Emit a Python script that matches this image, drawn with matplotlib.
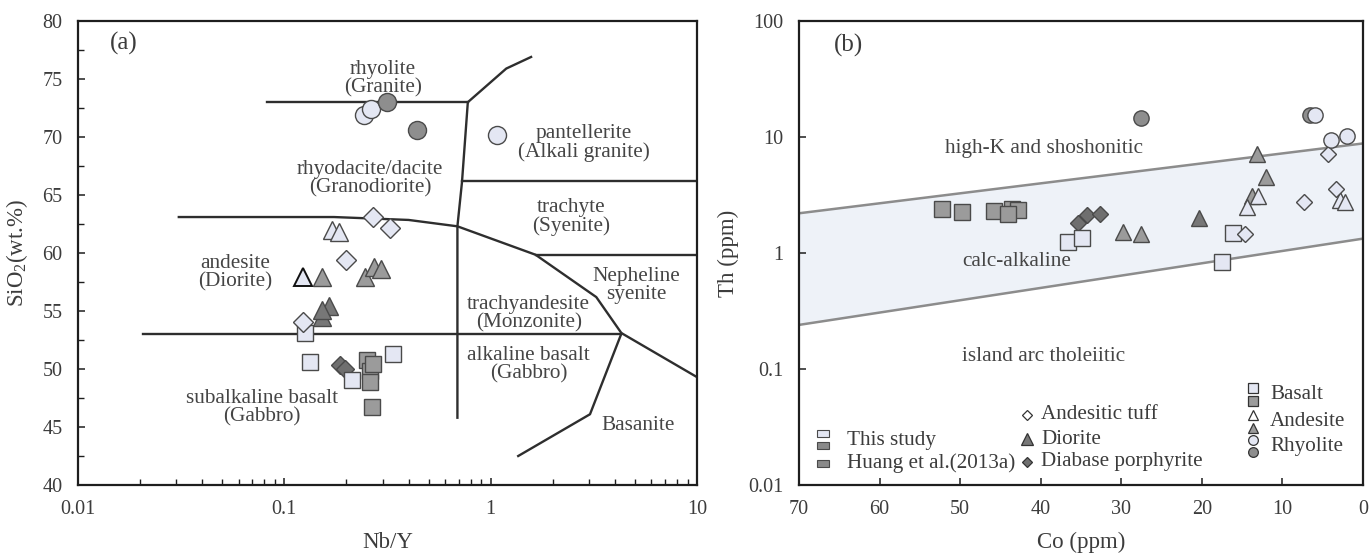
import matplotlib
matplotlib.use("Agg")
import matplotlib.pyplot as plt
import numpy as np
from matplotlib.patches import Rectangle
from matplotlib.ticker import FixedLocator, FuncFormatter, NullFormatter, NullLocator

plt.rcParams['font.family'] = ['Liberation Serif', 'DejaVu Serif']
plt.rcParams['mathtext.fontset'] = 'custom'
plt.rcParams['mathtext.rm'] = 'Liberation Serif'
plt.rcParams['mathtext.it'] = 'Liberation Serif:italic'

# ---------------- Panel (a) data: Nb/Y vs SiO2 ----------------
rhy_this_nby = [0.243, 0.262, 1.07]
rhy_this_si = [71.9, 72.4, 70.17]
rhy_huang_nby = [0.313, 0.438]
rhy_huang_si = [73.0, 70.6]

tuff_nby = [0.27, 0.325, 0.20, 0.1236]
tuff_si = [63.08, 62.18, 59.4, 54.08]

and_this_nby = [0.170, 0.184]
and_this_si = [62.0, 61.84]
and_this_dark_edge_nby = [0.1236]
and_this_dark_edge_si = [57.9]
and_huang_nby = [0.153, 0.246, 0.272, 0.293]
and_huang_si = [57.9, 57.9, 58.77, 58.6]
dior_nby = [0.152, 0.165, 0.152]
dior_si = [54.5, 55.4, 55.1]

bas_huang_nby = [0.252, 0.26, 0.26, 0.27, 0.265]
bas_huang_si = [50.78, 49.8, 48.9, 50.43, 46.75]
diab_nby = [0.186, 0.197]
diab_si = [50.34, 49.97]
bas_this_nby = [0.1259, 0.133, 0.212, 0.337]
bas_this_si = [53.08, 50.63, 49.05, 51.27]

# field boundaries (Nb/Y, SiO2)
bound_a = [
    ([0.082, 0.775], [73.0, 73.0]),
    ([0.775, 1.19, 1.57], [73.0, 75.9, 76.9]),
    ([0.775, 0.726, 0.69, 0.69], [73.0, 66.1, 62.3, 45.8]),
    ([0.726, 10], [66.2, 66.2]),
    ([1.65, 10], [59.85, 59.85]),
    ([0.0308, 0.174, 0.40, 0.69, 1.65, 3.25, 4.3, 10], [63.1, 63.1, 62.85, 62.3, 59.85, 56.2, 53.1, 49.3]),
    ([0.0207, 4.3], [53.05, 53.05]),
    ([4.3, 3.03, 1.36], [53.05, 46.1, 42.5]),
]
field_labels_a = [
    ("rhyolite\n(Granite)", 0.30, 75.05),
    ("pantellerite\n(Alkali granite)", 2.83, 69.5),
    ("rhyodacite/dacite\n(Granodiorite)", 0.26, 66.4),
    ("trachyte\n(Syenite)", 2.46, 63.1),
    ("andesite\n(Diorite)", 0.058, 58.3),
    ("Nepheline\nsyenite", 5.1, 57.2),
    ("trachyandesite\n(Monzonite)", 1.53, 54.8),
    ("alkaline basalt\n(Gabbro)", 1.53, 50.35),
    ("subalkaline basalt\n(Gabbro)", 0.078, 46.7),
    ("Basanite", 5.19, 45.1),
]

# ---------------- Panel (b) data: Co vs Th ----------------
bas_huang_co = [52.2, 49.8, 45.8, 43.6, 42.8, 44.0]
bas_huang_th = [2.38, 2.24, 2.29, 2.38, 2.33, 2.16]
diab_co = [35.4, 34.2, 32.7]
diab_th = [1.80, 2.13, 2.16]
bas_this_co = [36.6, 34.9, 16.1, 17.5]
bas_this_th = [1.25, 1.36, 1.48, 0.83]
and_huang_co = [29.8, 27.6, 13.8, 13.1, 12.0]
and_huang_th = [1.53, 1.46, 3.1, 7.1, 4.5]
dior_co = [20.3]
dior_th = [1.99]
and_this_co = [14.4, 13.0, 2.85, 2.23]
and_this_th = [2.51, 3.1, 2.86, 2.73]
tuff_co = [14.6, 7.3, 3.35, 4.3]
tuff_th = [1.45, 2.73, 3.54, 7.1]
rhy_huang_co = [27.6, 6.58]
rhy_huang_th = [14.6, 15.5]
rhy_this_co = [6.0, 4.0, 2.02]
rhy_this_th = [15.5, 9.4, 10.1]

upper_co = [70, 0]
upper_th = [2.2, 8.8]
lower_co = [70, 0]
lower_th = [0.24, 1.33]

# ---------------- styling ----------------
LIGHT = '#e4e7f3'
GRAY = '#9b9b9b'
DARK = '#777777'
DIAB = '#6f6f6f'
EDGE = '#4a4a4a'
TXT = '#3c3c3c'
FS = 15.3

fig = plt.figure(figsize=(13.69, 5.56), dpi=100)
axa = fig.add_axes([78/1369, 71/556, 619/1369, 464/556])
axb = fig.add_axes([799/1369, 71/556, 564/1369, 464/556])

def style_axes(ax):
    for s in ax.spines.values():
        s.set_linewidth(1.6)
        s.set_color('#1e1e1e')
    ax.tick_params(which='both', direction='in', top=False, right=False,
                   colors='#1e1e1e', labelcolor=TXT, labelsize=14.5, pad=11)
    ax.tick_params(which='major', length=5, width=1.1)
    ax.tick_params(which='minor', length=4, width=1.0)

# ----- panel a -----
axa.set_xscale('log')
axa.set_xlim(0.01, 10)
axa.set_ylim(40, 80)
style_axes(axa)
axa.xaxis.set_major_locator(FixedLocator([0.01, 0.1, 1, 10]))
axa.xaxis.set_major_formatter(FuncFormatter(lambda v, p: f"{v:g}"))
axa.xaxis.set_minor_formatter(NullFormatter())
axa.yaxis.set_major_locator(FixedLocator(np.arange(40, 81, 5)))
axa.yaxis.set_minor_locator(FixedLocator(np.arange(42.5, 80, 5)))

for xs, ys in bound_a:
    axa.plot(xs, ys, color='#2e2e2e', lw=1.7, solid_joinstyle='round', zorder=2)
for txt, x, y in field_labels_a:
    axa.text(x, y, txt, ha='center', va='center', fontsize=FS, color='#454545',
             linespacing=0.95, zorder=3)
axa.text(0.0166, 78.1, "(a)", ha='center', va='center', fontsize=18, color=TXT)

mk = dict(markeredgecolor=EDGE, markeredgewidth=1.0, linestyle='none', zorder=5)
axa.plot(bas_huang_nby, bas_huang_si, 's', ms=12, markerfacecolor=GRAY, **mk)
axa.plot(diab_nby, diab_si, 'D', ms=9, markerfacecolor=DIAB, **mk)
axa.plot(bas_this_nby, bas_this_si, 's', ms=12, markerfacecolor=LIGHT, **mk)
axa.plot(dior_nby, dior_si, '^', ms=13, markerfacecolor=DARK, **mk)
axa.plot(and_huang_nby, and_huang_si, '^', ms=13, markerfacecolor=GRAY, **mk)
axa.plot(and_this_nby, and_this_si, '^', ms=13, markerfacecolor=LIGHT, **mk)
axa.plot(and_this_dark_edge_nby, and_this_dark_edge_si, '^', ms=13, markerfacecolor=LIGHT,
         markeredgecolor='#111111', markeredgewidth=1.4, linestyle='none', zorder=5)
axa.plot(tuff_nby, tuff_si, 'D', ms=10, markerfacecolor=LIGHT, **mk)
axa.plot(rhy_this_nby, rhy_this_si, 'o', ms=13, markerfacecolor=LIGHT, **mk)
axa.plot(rhy_huang_nby, rhy_huang_si, 'o', ms=13, markerfacecolor='#8e8e8e', **mk)

axa.set_xlabel("Nb/Y", fontsize=16.5, color=TXT, labelpad=9)
axa.set_ylabel("SiO$_2$(wt.%)", fontsize=16.5, color=TXT, labelpad=9)

# ----- panel b -----
axb.set_yscale('log')
axb.set_xlim(70, 0)
axb.set_ylim(0.01, 100)
style_axes(axb)
axb.xaxis.set_major_locator(FixedLocator(np.arange(0, 71, 10)))
axb.yaxis.set_major_locator(FixedLocator([0.01, 0.1, 1, 10, 100]))
axb.yaxis.set_major_formatter(FuncFormatter(lambda v, p: f"{v:g}"))
axb.yaxis.set_minor_locator(NullLocator())

axb.fill_between(upper_co, lower_th, upper_th, color='#eef2f8', zorder=1, lw=0)
axb.plot(upper_co, upper_th, color='#8c8c8c', lw=1.8, zorder=2)
axb.plot(lower_co, lower_th, color='#8c8c8c', lw=1.8, zorder=2)

axb.text(63.8, 62, "(b)", ha='center', va='center', fontsize=18, color=TXT)
axb.text(39.6, 8.0, "high-K and shoshonitic", ha='center', va='center', fontsize=FS, color='#454545')
axb.text(43.0, 0.84, "calc-alkaline", ha='center', va='center', fontsize=FS, color='#454545')
axb.text(39.7, 0.127, "island arc tholeiitic", ha='center', va='center', fontsize=FS, color='#454545')

axb.plot(bas_huang_co, bas_huang_th, 's', ms=11, markerfacecolor=GRAY, **mk)
axb.plot(diab_co, diab_th, 'D', ms=8, markerfacecolor=DIAB, **mk)
axb.plot(bas_this_co, bas_this_th, 's', ms=11, markerfacecolor=LIGHT, **mk)
axb.plot(and_huang_co, and_huang_th, '^', ms=12, markerfacecolor=GRAY, **mk)
axb.plot(dior_co, dior_th, '^', ms=12, markerfacecolor=DARK, **mk)
axb.plot(and_this_co, and_this_th, '^', ms=12, markerfacecolor=LIGHT, **mk)
axb.plot(tuff_co, tuff_th, 'D', ms=8.5, markerfacecolor=LIGHT, **mk)
axb.plot(rhy_huang_co, rhy_huang_th, 'o', ms=11, markerfacecolor='#8e8e8e', **mk)
axb.plot(rhy_this_co, rhy_this_th, 'o', ms=11, markerfacecolor=LIGHT, **mk)

axb.set_xlabel("Co (ppm)", fontsize=16.5, color=TXT, labelpad=9)
axb.set_ylabel("Th (ppm)", fontsize=16.5, color=TXT, labelpad=7)

# ----- legend (panel b) -----
T = axb.transAxes
lfs = 15.2
sw_w, sw_h = 12/564, 7/464
for (cx, cy, fc) in [(0.0426, 0.112, LIGHT), (0.0426, 0.0862, '#8a8a8a'), (0.0426, 0.0453, '#8a8a8a')]:
    axb.add_patch(Rectangle((cx - sw_w/2, cy - sw_h/2), sw_w, sw_h, transform=T,
                            facecolor=fc, edgecolor=EDGE, lw=0.8, zorder=6))
axb.text(0.0851, 0.0955, "This study", transform=T, ha='left', va='center', fontsize=lfs, color=TXT)
axb.text(0.0851, 0.0463, "Huang et al.(2013a)", transform=T, ha='left', va='center', fontsize=lfs, color=TXT)

lk = dict(transform=T, markeredgecolor='#333333', markeredgewidth=0.9, linestyle='none', zorder=6, clip_on=False)
axb.plot([0.404], [0.151], 'D', ms=5.5, markerfacecolor='white', **lk)
axb.plot([0.404], [0.099], '^', ms=8, markerfacecolor=DARK, **lk)
axb.plot([0.404], [0.0496], 'D', ms=5.5, markerfacecolor=DIAB, **lk)
axb.text(0.429, 0.151, "Andesitic tuff", transform=T, ha='left', va='center', fontsize=lfs, color=TXT)
axb.text(0.429, 0.099, "Diorite", transform=T, ha='left', va='center', fontsize=lfs, color=TXT)
axb.text(0.429, 0.0496, "Diabase porphyrite", transform=T, ha='left', va='center', fontsize=lfs, color=TXT)

axb.plot([0.805], [0.209], 's', ms=7, markerfacecolor=LIGHT, **lk)
axb.plot([0.805], [0.181], 's', ms=7, markerfacecolor=GRAY, **lk)
axb.plot([0.805], [0.151], '^', ms=7, markerfacecolor='white', **lk)
axb.plot([0.805], [0.123], '^', ms=7, markerfacecolor=GRAY, **lk)
axb.plot([0.805], [0.097], 'o', ms=7, markerfacecolor=LIGHT, **lk)
axb.plot([0.805], [0.071], 'o', ms=7, markerfacecolor='#8e8e8e', **lk)
axb.text(0.835, 0.196, "Basalt", transform=T, ha='left', va='center', fontsize=lfs, color=TXT)
axb.text(0.835, 0.136, "Andesite", transform=T, ha='left', va='center', fontsize=lfs, color=TXT)
axb.text(0.835, 0.0825, "Rhyolite", transform=T, ha='left', va='center', fontsize=lfs, color=TXT)

fig.savefig("out.png", dpi=100, facecolor='white')
